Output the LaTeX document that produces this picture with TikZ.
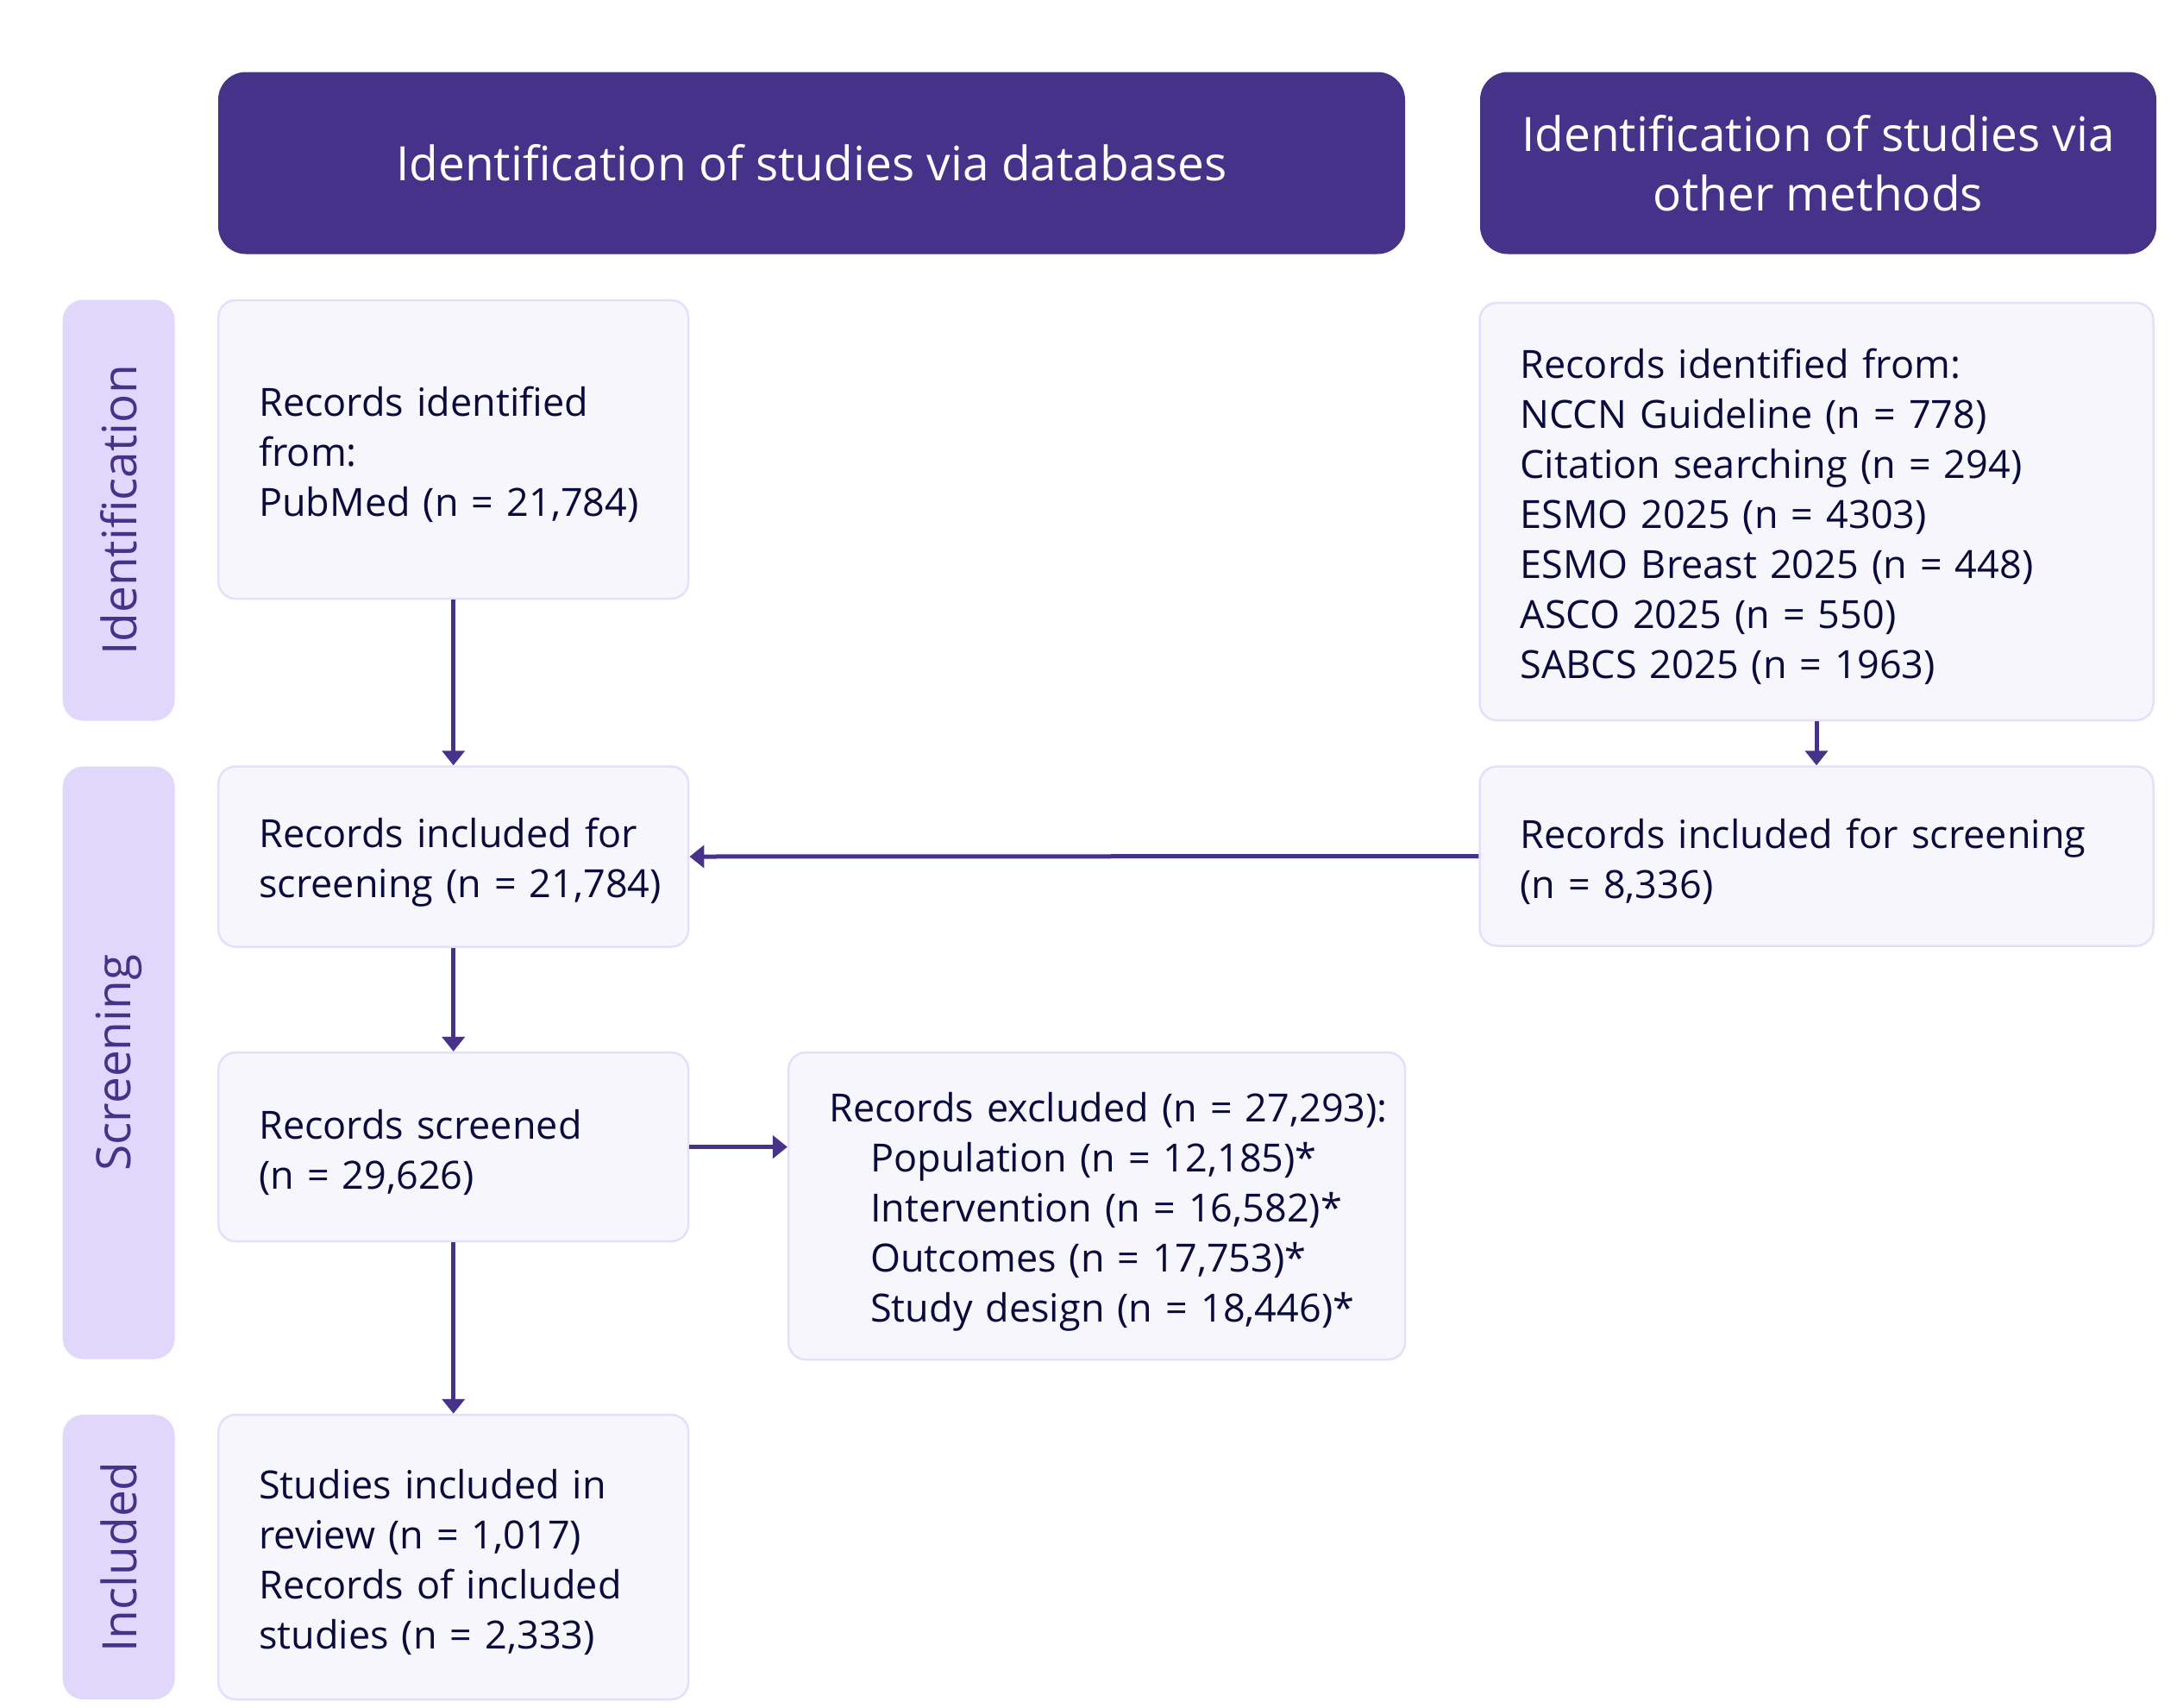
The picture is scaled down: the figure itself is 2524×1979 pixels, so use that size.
\documentclass[tikz,border=0pt]{standalone}
\usepackage{fontspec}
\setmainfont{Open Sans}
\usetikzlibrary{arrows.meta}
\definecolor{hdr}{HTML}{47328A}
\definecolor{side}{HTML}{E1D6FC}
\definecolor{boxfill}{HTML}{F7F6FC}
\definecolor{boxline}{HTML}{E4DFFA}
\definecolor{txt}{HTML}{0B0A3C}
\newcommand{\tline}[1]{\mbox{#1}}
\tikzset{
  header/.style={fill=hdr, draw=none, rounded corners=32pt, text=white, align=center,
    font=\fontsize{55}{69}\selectfont, inner sep=0pt},
  sidelabel/.style={fill=side, draw=none, rounded corners=24pt, text=hdr, rotate=90,
    font=\fontsize{55}{66}\selectfont, inner sep=0pt},
  flowbox/.style={fill=boxfill, draw=boxline, line width=2.5pt, rounded corners=20pt,
    text=txt, align=left, inner xsep=47pt, inner ysep=0pt,
    font=\fontsize{45}{58}\selectfont, execute at begin node={\rule{0pt}{47pt}}},
  flow/.style={draw=hdr, line width=5pt, -{Triangle[length=17pt,width=26pt]}},
}
\begin{document}
\begin{tikzpicture}[x=1pt,y=-1pt]
\useasboundingbox (0,0) rectangle (2524,1979);
% headers
\node[header, minimum width=1376pt, minimum height=211pt] (h1) at (941,189)
  {Identification of studies via databases};
\node[header, minimum width=784pt, minimum height=211pt] (h2) at (2108,189)
  {Identification of studies via\\other methods};
% side labels
\node[sidelabel, minimum width=488pt, minimum height=130pt] (l1) at (137.6,591.5) {Identification};
\node[sidelabel, minimum width=687pt, minimum height=130pt] (l2) at (137.6,1232) {Screening};
\node[sidelabel, minimum width=330pt, minimum height=130pt] (l3) at (137.6,1805) {Included};
% boxes
\node[flowbox, text width=451pt, minimum height=346pt] (a) at (525.7,521)
  {\tline{Records identified}\\\tline{from:}\\\tline{PubMed (n = 21,784)}};
\node[flowbox, text width=687pt, minimum height=484pt] (b) at (2106,593)
  {\tline{Records identified from:}\\\tline{NCCN Guideline (n = 778)}\\\tline{Citation searching (n = 294)}\\\tline{ESMO 2025 (n = 4303)}\\\tline{ESMO Breast 2025 (n = 448)}\\\tline{ASCO 2025 (n = 550)}\\\tline{SABCS 2025 (n = 1963)}};
\node[flowbox, text width=451pt, minimum height=209pt] (c) at (525.7,993)
  {\tline{Records included for}\\\tline{screening (n = 21,784)}};
\node[flowbox, text width=687pt, minimum height=208pt] (d) at (2106,992.5)
  {\tline{Records included for screening}\\\tline{(n = 8,336)}};
\node[flowbox, text width=451pt, minimum height=219pt] (e) at (525.7,1329.6)
  {\tline{Records screened}\\\tline{(n = 29,626)}};
\node[flowbox, text width=621pt, minimum height=356pt] (f) at (1271.7,1398)
  {\tline{Records excluded (n = 27,293):}\\
   \tline{\hspace*{48pt}Population (n = 12,185)*}\\
   \tline{\hspace*{48pt}Intervention (n = 16,582)*}\\
   \tline{\hspace*{48pt}Outcomes (n = 17,753)*}\\
   \tline{\hspace*{48pt}Study design (n = 18,446)*}};
\node[flowbox, text width=451pt, minimum height=330pt] (g) at (525.7,1805)
  {\tline{Studies included in}\\\tline{review (n = 1,017)}\\\tline{Records of included}\\\tline{studies (n = 2,333)}};
% connectors
\draw[flow] (a.south) -- (c.north);
\draw[flow] (b.south) -- (d.north);
\draw[flow] (d.west) -- (c.east);
\draw[flow] (c.south) -- (e.north);
\draw[flow] (e.east) -- (e.east -| f.west);
\draw[flow] (e.south) -- (g.north);
\end{tikzpicture}
\end{document}
